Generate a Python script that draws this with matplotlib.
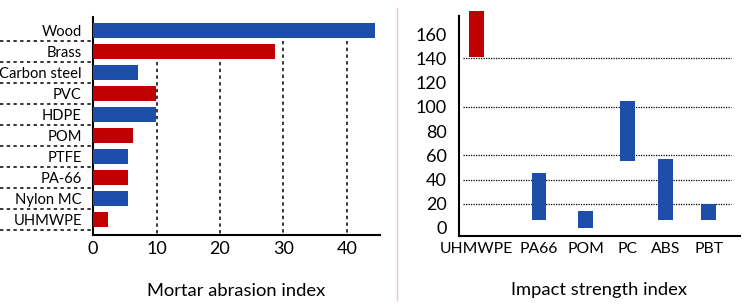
import matplotlib
matplotlib.use("Agg")
import matplotlib.pyplot as plt
from matplotlib.lines import Line2D

# Left chart: mortar abrasion index
materials = ["Wood", "Brass", "Carbon steel", "PVC", "HDPE", "POM",
             "PTFE", "PA-66", "Nylon MC", "UHMWPE"]
abrasion = [44.4, 28.7, 7.1, 9.9, 9.9, 6.3, 5.5, 5.5, 5.5, 2.4]
abrasion_ticks = [0, 10, 20, 30, 40]

# Right chart: impact strength index (floating ranges)
impact_names = ["UHMWPE", "PA66", "POM", "PC", "ABS", "PBT"]
impact_low = [141, 7, 0, 55, 7, 7]
impact_high = [179, 45, 14, 105, 57, 20]
impact_ticks = [0, 20, 40, 60, 80, 100, 120, 140, 160]
impact_grid = [20, 40, 60, 100, 140]

BLUE = "#1d4fa8"
RED = "#c00000"
DASH = (0, (2.2, 2.2))

plt.rcParams["font.family"] = ["Lato", "DejaVu Sans"]

fig = plt.figure(figsize=(7.55, 3.08), dpi=100)

# ---------------- left panel ----------------
ax1 = fig.add_axes([0.1232, 0.237, 0.3801, 0.708])
rows = list(range(len(materials)))
colors = [BLUE if i % 2 == 0 else RED for i in rows]
ax1.barh(rows, abrasion, height=0.72, color=colors, zorder=3)
ax1.set_ylim(9.74, -0.64)
ax1.set_xlim(0, 45.2)

# vertical dashed gridlines, stopping under the long bars
for v in abrasion_ticks[1:]:
    top = 1.5 if v <= 20 else 0.5
    ax1.vlines(v, top, 9.74, colors="black", linestyles=DASH, linewidth=1.1, zorder=1)

# row separators running out to the left edge
for i in rows:
    ax1.add_line(Line2D([-0.325, -0.005], [i + 0.5, i + 0.5],
                        transform=ax1.get_yaxis_transform(), color="black",
                        linestyle=DASH, linewidth=1.1, clip_on=False))

ax1.set_yticks(rows)
ax1.set_yticklabels(materials, fontsize=10.6)
ax1.set_xticks(abrasion_ticks)
ax1.set_xticklabels([str(t) for t in abrasion_ticks], fontsize=13)
ax1.tick_params(axis="y", length=0, pad=8)
ax1.tick_params(axis="x", length=0, pad=4)
for s in ["top", "right"]:
    ax1.spines[s].set_visible(False)
for s in ["left", "bottom"]:
    ax1.spines[s].set_linewidth(1.5)
ax1.set_xlabel("Mortar abrasion index", fontsize=13.2, labelpad=19)

# divider between panels
fig.add_artist(Line2D([397 / 755, 397 / 755], [1 - 8 / 308, 1 - 300 / 308],
                      transform=fig.transFigure, color="#e6c6ca", linewidth=1))

# ---------------- right panel ----------------
ax2 = fig.add_axes([0.608, 0.2338, 0.372, 0.730])
xpos = [1.75, 8.0, 12.7, 16.9, 20.7, 25.0]
heights = [h - l for h, l in zip(impact_high, impact_low)]
bar_colors = [RED] + [BLUE] * (len(impact_names) - 1)
ax2.bar(xpos, heights, bottom=impact_low, width=1.5, color=bar_colors, zorder=3)
ax2.set_xlim(0, 28.1)
ax2.set_ylim(-6.6, 179)
for g in impact_grid:
    ax2.hlines(g, 0.4, 27.2, colors="black", linestyles=(0, (1, 1)),
               linewidth=0.9, zorder=1)

ax2.set_yticks(impact_ticks)
ax2.set_yticklabels([str(t) for t in impact_ticks], fontsize=13)
ax2.set_xticks(xpos)
ax2.set_xticklabels(impact_names, fontsize=11.3)
ax2.tick_params(axis="both", length=0)
ax2.tick_params(axis="y", pad=9)
ax2.tick_params(axis="x", pad=4)
for s in ["top", "right"]:
    ax2.spines[s].set_visible(False)
for s in ["left", "bottom"]:
    ax2.spines[s].set_linewidth(1.5)
ax2.spines["left"].set_bounds(-6.6, 175)
ax2.set_xlabel("Impact strength index", fontsize=13.2, labelpad=19)

fig.savefig("out.png", dpi=100)
